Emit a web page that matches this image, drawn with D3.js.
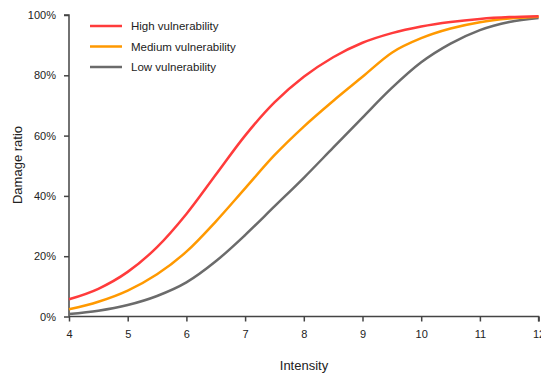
<!DOCTYPE html>
<html>
<head>
<meta charset="utf-8">
<script src="https://cdn.jsdelivr.net/npm/d3@7"></script>
<style>
  body { margin: 0; background: #fff; }
  svg { display: block; font-family: "Liberation Sans", Arial, sans-serif; }
</style>
</head>
<body>
<svg id="chart" width="541" height="373"></svg>
<script>
// intensity steps
const intensity = [4, 4.5, 5, 5.5, 6, 6.5, 7, 7.5, 8, 8.5, 9, 9.5, 10, 10.5, 11, 11.5, 12]
// damage ratio (%) per vulnerability class
const highVuln = [5.7, 9.2, 14.8, 23, 34, 47, 60, 71, 79.5, 86, 90.8, 94, 96.2, 97.7, 98.7, 99.3, 99.6]
const mediumVuln = [2.4, 4.9, 8.6, 14, 21.5, 31.5, 42.5, 53.5, 63, 71.5, 79.5, 87.5, 92.3, 95.5, 97.6, 98.8, 99.4]
const lowVuln = [0.8, 1.9, 3.8, 6.8, 11.3, 18.3, 27, 36.5, 46, 56, 66, 75.8, 84.3, 90.5, 95, 97.7, 99]
const seriesNames = ['High vulnerability', 'Medium vulnerability', 'Low vulnerability']
const colors = ['#ff3b3b', '#ff9900', '#6b6b6b']
const xTicks = [4, 5, 6, 7, 8, 9, 10, 11, 12]
const yTicks = [0, 20, 40, 60, 80, 100]

const svg = d3.select('#chart')
const x = d3.scaleLinear().domain([4, 12]).range([69, 538.6])
const y = d3.scaleLinear().domain([0, 100]).range([316.5, 15])

// y axis
const yAxis = svg.append('g').attr('transform', 'translate(69,0)')
  .call(d3.axisLeft(y).tickValues(yTicks).tickSize(5).tickPadding(8).tickFormat(d => d + '%'))
yAxis.select('.domain').attr('d', 'M-5,' + y(100) + 'H0V' + y(0)).attr('stroke', '#444').attr('stroke-width', 1.5)
yAxis.selectAll('.tick line').attr('stroke', '#444').attr('stroke-width', 1.5)
yAxis.selectAll('.tick text').attr('fill', '#222').style('font-size', '11px')

// x axis
const xAxis = svg.append('g').attr('transform', 'translate(0,316.5)')
  .call(d3.axisBottom(x).tickValues(xTicks).tickSize(5).tickPadding(9).tickFormat(d3.format('d')))
xAxis.select('.domain').attr('d', 'M' + x(4) + ',0H' + x(12) + 'V5').attr('stroke', '#444').attr('stroke-width', 1.5)
xAxis.selectAll('.tick line').attr('stroke', '#444').attr('stroke-width', 1.5)
xAxis.selectAll('.tick text').attr('fill', '#222').style('font-size', '11px')

// axis titles
svg.append('text').attr('x', 304).attr('y', 370).attr('text-anchor', 'middle')
  .attr('fill', '#222').style('font-size', '13px').text('Intensity')
svg.append('text').attr('transform', 'translate(22,165) rotate(-90)').attr('text-anchor', 'middle')
  .attr('fill', '#222').style('font-size', '13px').text('Damage ratio')

// lines
const allSeries = [highVuln, mediumVuln, lowVuln]
const line = d3.line()
  .x((d, i) => x(intensity[i]))
  .y(d => y(d))
  .curve(d3.curveMonotoneX)

// low first so high is drawn on top
allSeries.slice().reverse().forEach((vals, j) => {
  const k = allSeries.length - 1 - j
  svg.append('path').datum(vals)
    .attr('fill', 'none')
    .attr('stroke', colors[k])
    .attr('stroke-width', 2.5)
    .attr('d', line)
})

// legend
const legend = svg.append('g')
seriesNames.forEach((name, i) => {
  const ly = 26 + i * 20.5
  legend.append('line').attr('x1', 90).attr('x2', 122).attr('y1', ly).attr('y2', ly)
    .attr('stroke', colors[i]).attr('stroke-width', 2.5)
  legend.append('text').attr('x', 131).attr('y', ly + 4)
    .attr('fill', '#222').style('font-size', '11.5px').text(name)
})
</script>
</body>
</html>
